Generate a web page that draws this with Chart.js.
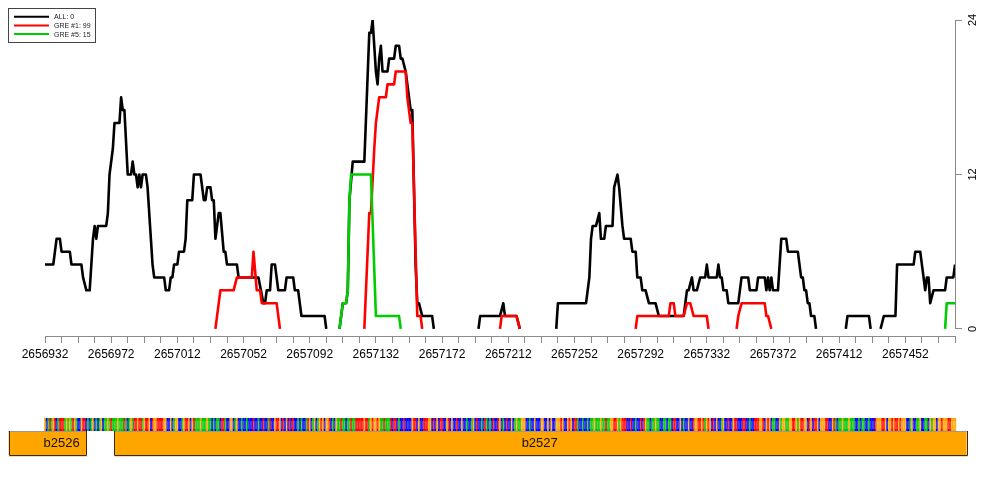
<!DOCTYPE html>
<html><head><meta charset="utf-8">
<script src="https://cdn.jsdelivr.net/npm/chart.js@4.4.1/dist/chart.umd.min.js"></script>
<style>html,body{margin:0;padding:0;background:#fff;}canvas{display:block;}</style>
</head><body>
<canvas id="c" width="1000" height="500"></canvas>
<script>
// ---- data ----
const START = 2656932;
const END = 2657482;
const xTickLabels = [2656932, 2656972, 2657012, 2657052, 2657092, 2657132, 2657172, 2657212, 2657252, 2657292, 2657332, 2657372, 2657412, 2657452];
const xMinorStep = 10;
const yTickValues = [0, 12, 24];
const seriesNames = ['ALL: 0', 'GRE #1: 99', 'GRE #5: 15'];

// offsets from START; null value = gap
const allOffset = [0,5,6,7,9,10,15,16,22,23,25,27,28,29,30,31,32,37,38,39,41,42,45,46,47,48,50,52,53,54,55,56,57,58,59,61,62,64,65,66,72,73,75,76,77,78,80,81,84,85,86,89,90,94,96,97,98,100,101,102,103,105,106,108,109,110,116,117,129,132,133,134,136,137,139,141,145,146,150,151,153,155,169,170,
  174,
  178,180,182,183,184,186,193,196,197,198,200,201,202,203,204,207,208,211,212,214,215,216,218,220,221,222,224,225,226,228,234,235,
  250,
  262,263,275,277,278,285,287,
  300,
  309,310,327,329,330,331,333,335,336,338,339,343,344,346,347,349,350,354,355,357,358,360,361,363,365,369,371,386,388,389,391,392,394,396,399,400,401,406,407,408,409,410,412,413,419,421,425,426,430,431,435,436,437,438,439,440,443,445,448,449,455,457,458,459,460,461,462,463,465,466,
  475,
  484,485,498,499,
  502,
  505,507,514,515,525,526,529,530,531,532,533,534,535,537,544,545,549,550];
const allValue = [5,5,6,7,7,6,6,5,5,4,3,3,5,7,8,7,8,8,9,12,14,16,16,18,17,17,12,12,13,12,12,11,12,11,12,12,11,7,5,4,4,3,3,4,4,5,5,6,6,7,10,10,12,12,10,10,11,11,10,10,7,9,9,6,6,5,5,4,4,2,2,3,3,5,5,3,3,4,4,3,3,1,1,0,
  null,
  0,2,2,3,10,13,13,23,23,24,20,19,21,22,20,20,21,21,22,22,21,21,20,18,17,17,5,2,2,1,1,0,
  null,
  0,1,1,2,1,1,0,
  null,
  0,2,2,4,7,8,8,9,7,7,8,8,11,12,11,8,7,7,6,6,4,4,3,3,2,2,1,1,3,3,4,3,3,4,4,5,4,4,5,4,4,3,3,2,2,4,4,3,3,4,4,3,4,3,4,3,3,7,7,6,6,4,4,3,3,2,2,1,1,0,
  null,
  0,1,1,0,
  null,
  0,1,1,5,5,6,6,5,4,3,4,4,2,3,3,4,4,5];

const gre1Offset = [103,106,114,116,125,126,128,130,131,140,142,
  160,
  193,196,197,199,200,202,206,207,211,212,218,219,220,221,222,225,227,228,
  250,
  275,276,285,287,
  320,
  357,358,377,378,380,381,386,388,390,392,400,401,
  410,
  418,419,421,435,436,437,439];
const gre1Value = [0,3,3,4,4,6,3,3,2,2,0,
  null,
  0,9,9,14,16,18,18,19,19,20,20,18,17,16,16,1,1,0,
  null,
  0,1,1,0,
  null,
  0,1,1,2,2,1,1,2,2,1,1,0,
  null,
  0,1,2,2,1,1,0];

const gre5Offset = [178,180,182,183,184,185,197,200,214,215, 400, 544,545,550];
const gre5Value  = [0,2,2,3,10,12,12,1,1,0, null, 0,2,2];

const sequenceChunks = ["GCATAGTCAT","TTAGAGATGA","CCGTTCACAG","CACAGCAAGA","TAAAGAAATA","CAGATTGTTA","GTTGCTGGTT","TTGGCCGCAG","GCCAGTTGCG","TAAAGAAAGA",
  "ACACAACTTA","CCGGCAGCCA","CCACCCTCCA","CCTCCATCCG","TTGCTCGCTC","TCCACACCAT","GCAGCAGTGC","GGTCACGAAT","AACAATAATT","TTTGTTAGTG",
  "GTGAATAAAT","CTTCACCTCC","CCGTTCGCCT","TTGGCTCGCT","TCCGTCGCCT","CCGCCACCAG","CTCCACTACA","CTCCTGCACT","CCGCAGAAGG","GCCACCGCCC",
  "GGCCGCGCCG","GGTGCCGTGC","TTACCACCAC","AAGAAAGAAT","AAGGTTGAGT","TTCCTCCACC","TCTGAACAAG","AACCAACAAC","TTCCGCACCG","CCTGGTTGTA",
  "GTGCTCGCCA","GCCTCCGTTC","CCTTCCACCT","TTGGTCGTGC","AACCGAGGAA","GGTTGAGTTG","GCTGCTTGCG","GGTTCCGTAC","AAGAAAGAAA","CCACAACCAC",
  "CCTGGGTTGC","GGTGTTGTGG","GCCAGCCAAG","CCAACGAGGC","GGTGGGTTGG","G"];

const geneNames = ['b2526', 'b2527'];
const geneStart = [2656910, 2656974];
const geneEnd = [2656957, 2657489];
const geneLabelAt = [2656942, 2657231];

// ---- styles ----
const FONT = '"Liberation Sans", Arial, Helvetica, sans-serif';
const seriesColors = ['#000000', '#FF0000', '#00CD00'];
const baseColors = {A: '#00C800', C: '#0000FF', G: '#FFA500', T: '#FF0000'};
const axisGray = '#8a8a8a';

function toPoints(off, val) {
  return off.map((o, i) => ({x: START + o, y: val[i]}));
}
function mkDs(label, off, val, color, order) {
  return {label, data: toPoints(off, val), borderColor: color, backgroundColor: color,
    borderWidth: 2.6, pointRadius: 0, pointHoverRadius: 0, tension: 0, spanGaps: false,
    fill: false, order, borderJoinStyle: 'round', borderCapStyle: 'butt'};
}

const extras = {
  id: 'extras',
  afterDraw(chart) {
    const ctx = chart.ctx;
    const xs = chart.scales.x, ys = chart.scales.y;
    const ca = chart.chartArea;
    ctx.save();
    // right axis line 0..24
    ctx.strokeStyle = axisGray; ctx.lineWidth = 1;
    ctx.beginPath();
    ctx.moveTo(Math.round(ca.right) + 0.5, ys.getPixelForValue(yTickValues[0]));
    ctx.lineTo(Math.round(ca.right) + 0.5, ys.getPixelForValue(yTickValues[yTickValues.length - 1]));
    ctx.stroke();

    // legend
    ctx.strokeStyle = '#444'; ctx.lineWidth = 1;
    ctx.strokeRect(8.5, 8.5, 87, 34);
    ctx.font = '7px ' + FONT; ctx.textBaseline = 'middle'; ctx.textAlign = 'left';
    chart.data.datasets.forEach((d, i) => {
      const y = 16.7 + i * 8.7;
      ctx.strokeStyle = d.borderColor; ctx.lineWidth = 2;
      ctx.beginPath(); ctx.moveTo(14, y); ctx.lineTo(49, y); ctx.stroke();
      ctx.fillStyle = '#222'; ctx.fillText(d.label, 54, y + 0.5);
    });

    // sequence strip
    const seq = sequenceChunks.join('');
    const sTop = 418, sBot = 431;
    for (let i = 0; i < seq.length; i++) {
      const x0 = xs.getPixelForValue(START + i - 0.5);
      const x1 = xs.getPixelForValue(START + i + 0.5);
      ctx.fillStyle = baseColors[seq[i]] || '#999';
      ctx.fillRect(x0, sTop, x1 - x0 + 0.3, sBot - sTop);
    }
    ctx.globalAlpha = 0.45;
    ctx.fillStyle = '#ffffff';
    for (let i = 0; i < seq.length; i++) {
      const xc = xs.getPixelForValue(START + i);
      ctx.fillRect(xc - 0.3, sTop + 3, 0.6, sBot - sTop - 5);
    }
    ctx.globalAlpha = 1;

    // genes
    const gTop = 431, gBot = 455;
    geneNames.forEach((name, i) => {
      const x0 = xs.getPixelForValue(geneStart[i]);
      const x1 = xs.getPixelForValue(geneEnd[i]);
      ctx.fillStyle = '#FFA500';
      ctx.fillRect(x0, gTop, x1 - x0, gBot - gTop);
      ctx.strokeStyle = '#999'; ctx.lineWidth = 1;
      ctx.beginPath(); ctx.moveTo(x0, gTop + 0.5); ctx.lineTo(x1, gTop + 0.5); ctx.stroke();
      ctx.strokeStyle = '#3d2a00';
      ctx.beginPath();
      ctx.moveTo(Math.round(x0) + 0.5, gTop); ctx.lineTo(Math.round(x0) + 0.5, gBot + 0.5);
      ctx.lineTo(Math.round(x1) + 0.5, gBot + 0.5); ctx.lineTo(Math.round(x1) + 0.5, gTop);
      ctx.stroke();
      ctx.strokeStyle = '#dddddd';
      ctx.beginPath(); ctx.moveTo(x0, gBot + 1.5); ctx.lineTo(x1 + 1, gBot + 1.5); ctx.stroke();
      ctx.fillStyle = '#111'; ctx.font = '13px ' + FONT;
      ctx.textAlign = 'center'; ctx.textBaseline = 'middle';
      ctx.fillText(name, xs.getPixelForValue(geneLabelAt[i]), 443.5);
    });
    ctx.restore();
  }
};

new Chart(document.getElementById('c'), {
  type: 'line',
  data: {
    datasets: [
      mkDs(seriesNames[0], allOffset, allValue, seriesColors[0], 3),
      mkDs(seriesNames[1], gre1Offset, gre1Value, seriesColors[1], 2),
      mkDs(seriesNames[2], gre5Offset, gre5Value, seriesColors[2], 1)
    ]
  },
  options: {
    responsive: false, animation: false, devicePixelRatio: 1,
    layout: {padding: {left: 45, right: 0, top: 20, bottom: 134}},
    plugins: {legend: {display: false}, tooltip: {enabled: false}},
    events: [],
    scales: {
      x: {
        type: 'linear', position: 'bottom', min: START, max: END,
        afterFit(s) { s.height = 30; },
        afterBuildTicks(s) { const t = []; for (let v = START; v <= END; v += xMinorStep) t.push({value: v}); s.ticks = t; },
        ticks: {autoSkip: false, maxRotation: 0, minRotation: 0, padding: 4, color: '#000',
          font: {family: FONT, size: 12},
          callback(v) { return xTickLabels.includes(v) ? String(v) : ''; }},
        grid: {drawOnChartArea: false, drawTicks: true, tickLength: 7, color: axisGray, lineWidth: 1},
        border: {display: true, color: axisGray, width: 1}
      },
      y: {
        type: 'linear', position: 'right', min: -0.55, max: 24,
        afterFit(s) { s.width = 45; },
        afterBuildTicks(s) { s.ticks = yTickValues.map(v => ({value: v})); },
        ticks: {minRotation: 90, maxRotation: 90, crossAlign: 'center', padding: 5, color: '#000',
          font: {family: FONT, size: 11}},
        grid: {drawOnChartArea: false, drawTicks: true, tickLength: 7, color: axisGray, lineWidth: 1},
        border: {display: false}
      }
    }
  },
  plugins: [extras]
});
</script>
</body></html>
